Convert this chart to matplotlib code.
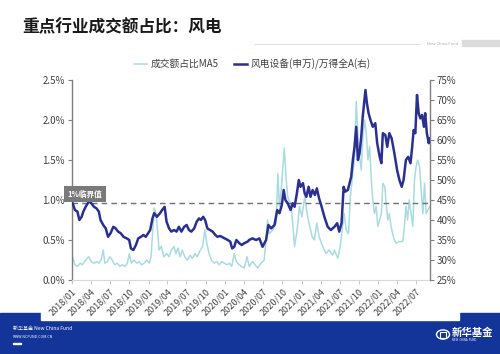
import matplotlib
matplotlib.use('Agg')
import matplotlib.pyplot as plt
import pandas as pd
from matplotlib.patches import Rectangle, Circle

plt.rcParams['font.family'] = ['Noto Sans CJK SC', 'DejaVu Sans']

# 成交额占比MA5 (left axis, %)
ma5_dates = ['2018-01-02', '2018-01-15', '2018-01-27', '2018-02-09', '2018-02-19', '2018-03-02', '2018-03-14',
             '2018-03-22', '2018-04-03', '2018-04-16', '2018-04-28', '2018-05-09', '2018-05-20', '2018-05-30',
             '2018-06-07', '2018-06-18', '2018-07-01', '2018-07-12', '2018-07-23', '2018-08-05', '2018-08-18',
             '2018-08-29', '2018-09-11', '2018-09-22', '2018-10-02', '2018-10-11', '2018-10-24', '2018-11-07',
             '2018-11-18', '2018-11-28', '2018-12-11', '2018-12-24', '2019-01-05', '2019-01-13', '2019-01-20',
             '2019-01-28', '2019-02-06', '2019-02-16', '2019-02-20', '2019-03-03', '2019-03-15', '2019-03-28',
             '2019-04-09', '2019-04-20', '2019-05-03', '2019-05-11', '2019-05-22', '2019-06-01', '2019-06-11',
             '2019-06-23', '2019-07-05', '2019-07-18', '2019-07-29', '2019-08-10', '2019-08-22', '2019-09-05',
             '2019-09-16', '2019-09-27', '2019-10-06', '2019-10-17', '2019-10-28', '2019-11-11', '2019-11-23',
             '2019-12-04', '2019-12-17', '2019-12-28', '2020-01-11', '2020-01-22', '2020-02-02', '2020-02-14',
             '2020-02-24', '2020-03-09', '2020-03-19', '2020-04-02', '2020-04-15', '2020-04-25', '2020-05-11',
             '2020-06-05', '2020-06-21', '2020-07-06', '2020-07-22', '2020-07-30', '2020-08-16', '2020-09-01',
             '2020-09-09', '2020-09-17', '2020-09-25', '2020-10-02', '2020-10-10', '2020-10-18', '2020-10-26',
             '2020-11-12', '2020-11-28', '2020-12-10', '2020-12-21', '2021-01-02', '2021-01-15', '2021-01-27',
             '2021-02-08', '2021-02-20', '2021-03-02', '2021-03-14', '2021-03-25', '2021-04-11', '2021-04-27',
             '2021-05-12', '2021-05-28', '2021-06-06', '2021-06-22', '2021-07-04', '2021-07-15', '2021-07-23',
             '2021-08-01', '2021-08-12', '2021-08-21', '2021-09-02', '2021-09-10', '2021-09-18', '2021-09-26',
             '2021-10-04', '2021-10-12', '2021-10-19', '2021-10-28', '2021-11-05', '2021-11-13', '2021-11-21',
             '2021-11-29', '2021-12-06', '2021-12-14', '2021-12-22', '2021-12-30', '2022-01-08', '2022-01-16',
             '2022-01-23', '2022-02-01', '2022-02-09', '2022-02-16', '2022-02-23', '2022-03-03', '2022-03-11',
             '2022-03-19', '2022-03-27', '2022-04-12', '2022-04-28', '2022-05-06', '2022-05-13', '2022-05-21',
             '2022-05-29', '2022-06-07', '2022-06-15', '2022-06-23', '2022-07-01', '2022-07-08', '2022-07-17',
             '2022-07-25', '2022-08-02', '2022-08-10', '2022-08-18', '2022-08-26', '2022-09-05']
ma5_vals = [0.31, 0.19, 0.17, 0.21, 0.19, 0.23, 0.27,
            0.29, 0.23, 0.21, 0.23, 0.21, 0.25, 0.375,
            0.21, 0.23, 0.29, 0.25, 0.19, 0.21, 0.17,
            0.19, 0.17, 0.21, 0.33, 0.21, 0.25, 0.21,
            0.23, 0.19, 0.21, 0.25, 0.21, 0.29, 0.58,
            0.90, 0.83, 0.54, 0.375, 0.42, 0.29, 0.33,
            0.29, 0.375, 0.42, 0.33, 0.40, 0.29, 0.375,
            0.29, 0.25, 0.31, 0.27, 0.33, 0.29, 0.375,
            0.42, 0.625, 0.46, 0.33, 0.25, 0.21, 0.23,
            0.19, 0.23, 0.21, 0.19, 0.21, 0.17, 0.33,
            0.23, 0.19, 0.17, 0.15, 0.29, 0.17, 0.23,
            0.15, 0.21, 0.25, 0.75, 0.58, 0.625, 0.71,
            1.33, 0.92, 1.125, 1.375, 1.65, 1.29, 1.04,
            0.92, 0.42, 0.625, 0.92, 0.79, 1.04, 0.83,
            0.67, 0.54, 0.50, 0.71, 0.54, 0.42, 0.33,
            0.375, 0.31, 0.375, 0.27, 0.42, 0.67, 0.83,
            0.625, 0.58, 1.04, 1.33, 1.54, 2.23, 1.83,
            1.54, 1.375, 1.75, 2.0, 1.83, 1.5, 1.67,
            1.25, 1.0, 0.83, 0.92, 0.67, 0.75, 0.83,
            1.21, 1.17, 0.92, 0.75, 0.83, 0.67, 0.58,
            0.50, 0.46, 0.48, 0.48, 0.67, 0.92, 0.75,
            1.0, 0.83, 0.67, 1.25, 1.42, 1.5, 1.42,
            1.125, 0.83, 1.21, 0.83, 0.875, 0.92]

# 风电设备(申万)/万得全A (right axis, %)
wind_dates = ['2018-01-02', '2018-01-15', '2018-01-27', '2018-02-05', '2018-02-16', '2018-02-24', '2018-03-07',
              '2018-03-22', '2018-04-03', '2018-04-16', '2018-04-28', '2018-05-09', '2018-05-17', '2018-05-30',
              '2018-06-11', '2018-06-22', '2018-07-04', '2018-07-17', '2018-07-28', '2018-08-09', '2018-08-21',
              '2018-09-04', '2018-09-19', '2018-10-01', '2018-10-09', '2018-10-21', '2018-11-02', '2018-11-13',
              '2018-11-26', '2018-12-08', '2018-12-19', '2018-12-30', '2019-01-09', '2019-01-20', '2019-01-28',
              '2019-02-10', '2019-02-25', '2019-03-07', '2019-03-19', '2019-03-28', '2019-04-09', '2019-04-20',
              '2019-05-03', '2019-05-15', '2019-05-26', '2019-06-07', '2019-06-20', '2019-07-02', '2019-07-13',
              '2019-07-24', '2019-08-07', '2019-08-19', '2019-08-30', '2019-09-08', '2019-09-19', '2019-09-28',
              '2019-10-09', '2019-10-22', '2019-11-03', '2019-11-16', '2019-11-26', '2019-12-09', '2019-12-20',
              '2020-01-01', '2020-01-14', '2020-01-26', '2020-02-04', '2020-02-14', '2020-02-24', '2020-03-09',
              '2020-03-21', '2020-04-02', '2020-04-18', '2020-04-25', '2020-05-11', '2020-05-28', '2020-06-13',
              '2020-06-28', '2020-07-15', '2020-07-26', '2020-08-08', '2020-08-24', '2020-09-06', '2020-09-17',
              '2020-09-28', '2020-10-07', '2020-10-15', '2020-10-26', '2020-11-09', '2020-11-19', '2020-11-28',
              '2020-12-09', '2020-12-18', '2020-12-26', '2021-01-07', '2021-01-15', '2021-01-23', '2021-02-03',
              '2021-02-12', '2021-02-22', '2021-03-05', '2021-03-14', '2021-03-25', '2021-04-06', '2021-04-19',
              '2021-05-05', '2021-05-20', '2021-06-06', '2021-06-19', '2021-06-29', '2021-07-10', '2021-07-20',
              '2021-07-28', '2021-08-09', '2021-08-17', '2021-08-25', '2021-09-02', '2021-09-10', '2021-09-18',
              '2021-09-26', '2021-10-04', '2021-10-12', '2021-10-19', '2021-11-01', '2021-11-08', '2021-11-16',
              '2021-11-25', '2021-12-06', '2021-12-18', '2021-12-27', '2022-01-08', '2022-01-16', '2022-01-23',
              '2022-02-04', '2022-02-13', '2022-02-23', '2022-03-06', '2022-03-19', '2022-04-01', '2022-04-12',
              '2022-04-23', '2022-05-02', '2022-05-13', '2022-05-24', '2022-06-04', '2022-06-12', '2022-06-19',
              '2022-06-27', '2022-07-05', '2022-07-13', '2022-07-21', '2022-07-29', '2022-08-07', '2022-08-13',
              '2022-08-21', '2022-08-30', '2022-09-05']
wind_vals = [44.5, 42.5, 42.1, 40.0, 40.8, 42.1, 43.3,
             44.6, 44.2, 43.3, 42.9, 42.1, 40.0, 38.75,
             37.9, 35.8, 36.7, 38.3, 37.9, 37.1, 36.7,
             35.8, 35.4, 35.0, 32.9, 32.5, 33.75, 35.4,
             35.8, 36.25, 35.8, 36.7, 37.5, 40.4, 41.7,
             40.8, 41.7, 42.5, 43.3, 39.6, 37.9, 37.1,
             37.5, 37.1, 38.3, 37.1, 38.3, 38.75, 37.5,
             37.1, 37.9, 39.6, 40.4, 40.0, 40.8, 40.0,
             37.9, 37.5, 37.1, 36.25, 35.8, 36.0, 35.7,
             35.4, 35.0, 34.6, 32.9, 33.3, 35.0, 34.2,
             33.75, 34.2, 34.6, 35.0, 35.4, 35.0, 35.4,
             33.3, 35.0, 38.75, 37.9, 38.75, 42.5, 41.7,
             43.75, 47.5, 45.0, 44.2, 42.5, 44.2, 43.3,
             46.7, 50.0, 48.3, 49.2, 46.7, 45.8, 48.3,
             45.8, 47.5, 46.25, 47.9, 45.4, 43.3, 40.8,
             38.3, 37.5, 38.3, 39.2, 37.1, 39.2, 48.3,
             47.1, 47.5, 49.2, 50.8, 55.0, 58.3, 63.3,
             55.0, 56.7, 60.8, 65.8, 72.5, 69.2, 66.7,
             65.0, 63.3, 64.2, 59.2, 55.8, 54.2, 61.7,
             61.25, 58.3, 61.7, 60.4, 56.7, 52.5, 50.0,
             48.3, 50.0, 55.0, 55.8, 54.2, 58.3, 62.5,
             61.7, 71.25, 66.7, 65.4, 66.25, 63.3, 66.7,
             61.7, 59.2, 60.4]

left_ticks = [0.0, 0.5, 1.0, 1.5, 2.0, 2.5]
right_ticks = [25, 30, 35, 40, 45, 50, 55, 60, 65, 70, 75]
quarter_labels = ['2018/01', '2018/04', '2018/07', '2018/10', '2019/01', '2019/04', '2019/07', '2019/10',
                  '2020/01', '2020/04', '2020/07', '2020/10', '2021/01', '2021/04', '2021/07', '2021/10',
                  '2022/01', '2022/04', '2022/07']
threshold = 0.96

W, H = 500, 354
def fx(x):
    return x / W
def fy(y):
    return 1 - y / H

fig = plt.figure(figsize=(5, 3.54), dpi=100)
fig.patch.set_facecolor('white')

# footer band + white card
fig.patches.append(Rectangle((0, 0), 1, fy(313), transform=fig.transFigure, color='#13359a', zorder=0))
fig.patches.append(Rectangle((fx(41), fy(320)), fx(459) - fx(41), fy(300) - fy(320),
                             transform=fig.transFigure, color='white', zorder=1))
fig.text(fx(13), fy(328), '新华基金 New China Fund', color='white', fontsize=3.6, style='italic', va='center')
fig.text(fx(13), fy(336.5), 'WWW.NCFUND.COM.CN', color='white', fontsize=2.6, va='center')
fig.patches.append(Rectangle((fx(13), fy(344)), fx(8), fy(0) - fy(1.3), transform=fig.transFigure,
                             color='white', zorder=2))
# logo
fig.patches.append(Circle((fx(443), fy(334.5)), fx(6.5), transform=fig.transFigure, fill=False,
                          edgecolor='white', linewidth=1.0, zorder=2))
fig.patches.append(Rectangle((fx(440), fy(337.5)), fx(6), fy(0) - fy(6), transform=fig.transFigure,
                             fill=False, edgecolor='white', linewidth=0.8, zorder=2))
fig.text(fx(452), fy(332.5), '新华基金', color='white', fontsize=7.5, fontweight='bold', va='center')
fig.text(fx(452), fy(340), 'NEW  CHINA  FUND', color='white', fontsize=2, va='center')

# header
fig.text(fx(22), fy(27), '重点行业成交额占比：风电', fontsize=12, fontweight='bold', color='#1a1a1a', va='center')
fig.lines.append(plt.Line2D([fx(254), fx(420)], [fy(44), fy(44)], transform=fig.transFigure,
                            color='#d9d9d9', linewidth=0.6))
fig.text(fx(427), fy(44), 'New China Fund', fontsize=3, color='#b0b0b0', va='center')
fig.patches.append(Rectangle((fx(462), fy(45.5)), fx(38), fy(0) - fy(5), transform=fig.transFigure,
                             color='#dcdcdc', zorder=1))

ax = fig.add_axes([fx(72), fy(280), fx(430) - fx(72), fy(80) - fy(280)])
ax2 = ax.twinx()
ax.set_zorder(5)
ax2.set_zorder(6)

d_ma5 = pd.to_datetime(ma5_dates)
d_wind = pd.to_datetime(wind_dates)

l1, = ax.plot(d_ma5, ma5_vals, color='#a9dbdf', linewidth=1.1, label='成交额占比MA5', zorder=2)
ax.axhline(threshold, color='#6d6f80', linestyle=(0, (4, 3)), linewidth=1.0, zorder=3)
l2, = ax2.plot(d_wind, wind_vals, color='#2b2f8f', linewidth=1.8, label='风电设备(申万)/万得全A(右)', zorder=4)

ax.set_ylim(0, 2.5)
ax.set_yticks(left_ticks)
ax.set_yticklabels(['%.1f%%' % v for v in left_ticks])
ax2.set_ylim(25, 75)
ax2.set_yticks(right_ticks)
ax2.set_yticklabels(['%d%%' % v for v in right_ticks])

ticks = pd.date_range('2018-01-01', '2022-07-01', freq='QS')
ax.set_xlim(pd.Timestamp('2018-01-01'), pd.Timestamp('2022-09-05'))
ax.set_xticks(ticks)
ax.set_xticklabels(quarter_labels, rotation=45, ha='right', rotation_mode='anchor')

for a in (ax, ax2):
    a.spines['top'].set_visible(False)
    a.patch.set_visible(False)
ax.spines['left'].set_color('#7f7f7f')
ax.spines['left'].set_linewidth(1.0)
ax2.spines['right'].set_color('#7f7f7f')
ax2.spines['right'].set_linewidth(1.0)
ax.spines['right'].set_visible(False)
ax2.spines['left'].set_visible(False)
ax.spines['bottom'].set_color('#d9d9d9')
ax2.spines['bottom'].set_visible(False)
ax.tick_params(axis='y', labelsize=7, colors='#7f7f7f', labelcolor='#404040', length=3, width=0.8, pad=2)
ax2.tick_params(axis='y', labelsize=7, colors='#7f7f7f', labelcolor='#404040', length=3, width=0.8, pad=2)
ax.tick_params(axis='x', labelsize=6.5, colors='#bfbfbf', labelcolor='#404040', length=3, width=0.6, pad=2)

ax2.text(0.036, 0.43, '1%临界值', transform=ax2.transAxes, ha='center', va='center', fontsize=5.5,
         color='white', fontweight='bold', zorder=6,
         bbox=dict(boxstyle='square,pad=0.45', facecolor='#7a7a7a', edgecolor='none'))

leg = ax2.legend(handles=[l1, l2], loc='center', ncol=2, frameon=False, fontsize=7, handlelength=1.4,
                 handletextpad=0.3, columnspacing=1.6, labelcolor='#404040')
leg.set_bbox_to_anchor((fx(252), fy(64)), transform=fig.transFigure)

fig.savefig('out.png', dpi=100)
